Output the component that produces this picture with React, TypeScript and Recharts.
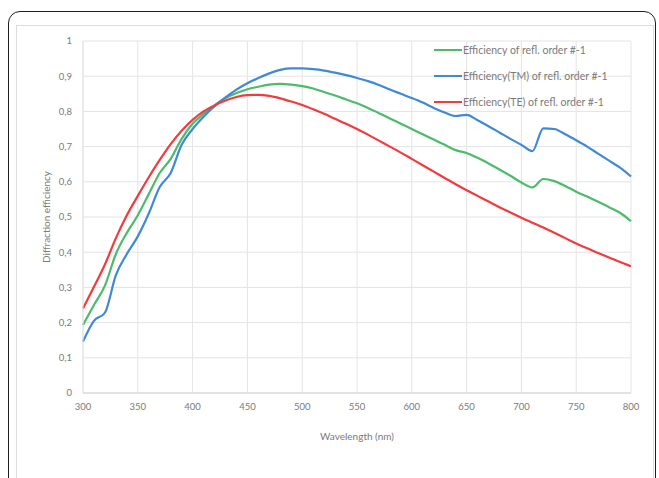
import React from "react";
import {
  LineChart,
  Line,
  XAxis,
  YAxis,
  CartesianGrid,
  Legend,
  Label,
} from "recharts";

const wavelengths = [
  300, 310, 320, 330, 340, 350, 360, 370, 380, 390, 400, 410, 420, 430, 440,
  450, 460, 470, 480, 490, 500, 510, 520, 530, 540, 550, 560, 570, 580, 590,
  600, 610, 620, 630, 640, 650, 660, 670, 680, 690, 700, 710, 720, 730, 740,
  750, 760, 770, 780, 790, 800,
];

const effTotal = [
  0.193, 0.25, 0.305, 0.395, 0.455, 0.505, 0.565, 0.625, 0.665, 0.722, 0.765,
  0.793, 0.817, 0.838, 0.852, 0.863, 0.87, 0.876, 0.878, 0.876, 0.872, 0.865,
  0.855, 0.845, 0.834, 0.823, 0.81, 0.795, 0.78, 0.765, 0.75, 0.735, 0.72,
  0.705, 0.69, 0.682, 0.668, 0.652, 0.635, 0.617, 0.598, 0.584, 0.608, 0.602,
  0.588, 0.572, 0.558, 0.543, 0.528, 0.512, 0.488,
];

const effTM = [
  0.146, 0.205, 0.228, 0.335, 0.395, 0.445, 0.51, 0.585, 0.625, 0.705, 0.75,
  0.785, 0.815, 0.84, 0.862, 0.88, 0.895, 0.908, 0.918, 0.922, 0.922, 0.92,
  0.916, 0.91, 0.903, 0.895, 0.886, 0.875, 0.862, 0.85, 0.838, 0.825, 0.81,
  0.797, 0.787, 0.79, 0.775, 0.758, 0.74, 0.722, 0.705, 0.687, 0.752, 0.75,
  0.735, 0.718, 0.7, 0.68, 0.66, 0.64, 0.615,
];

const effTE = [
  0.24, 0.302, 0.365, 0.44, 0.505, 0.56, 0.613, 0.662, 0.707, 0.745, 0.776,
  0.8, 0.817, 0.831, 0.841, 0.846, 0.847, 0.844, 0.837, 0.828, 0.818, 0.806,
  0.793, 0.779, 0.765, 0.75, 0.734, 0.717, 0.7, 0.683, 0.665, 0.647, 0.629,
  0.611, 0.593, 0.576, 0.56, 0.544, 0.528, 0.513, 0.498, 0.484, 0.47, 0.455,
  0.44, 0.425, 0.411, 0.398, 0.385, 0.372, 0.36,
];

const xTicks = [300, 350, 400, 450, 500, 550, 600, 650, 700, 750, 800];
const yTicks = [0, 0.1, 0.2, 0.3, 0.4, 0.5, 0.6, 0.7, 0.8, 0.9, 1];

const series = [
  { key: "total", name: "Efficiency of refl. order #-1", color: "#4cbb6a" },
  { key: "tm", name: "Efficiency(TM) of refl. order #-1", color: "#3f89d6" },
  { key: "te", name: "Efficiency(TE) of refl. order #-1", color: "#f23b3d" },
];

const data = wavelengths.map((w, i) => ({
  w,
  total: effTotal[i],
  tm: effTM[i],
  te: effTE[i],
}));

const FONT = "Lato, 'Open Sans', sans-serif";
const TEXT = "#7a7a7a";

const renderLegend = () => (
  <div style={{ fontFamily: FONT, fontSize: 10.5, color: TEXT }}>
    {series.map((s) => (
      <div
        key={s.key}
        style={{ display: "flex", alignItems: "center", height: 26 }}
      >
        <span
          style={{
            display: "inline-block",
            width: 28,
            height: 2,
            background: s.color,
            marginRight: 1,
          }}
        />
        <span>{s.name}</span>
      </div>
    ))}
  </div>
);

export default function App() {
  return (
    <div
      style={{
        position: "absolute",
        left: 0,
        top: 0,
        width: 659,
        height: 478,
        overflow: "hidden",
        background: "#fff",
      }}
    >
      {/* outer rounded frame */}
      <div
        style={{
          position: "absolute",
          left: 8,
          top: 11,
          width: 646,
          height: 520,
          border: "1.5px solid #1e1e1e",
          borderRadius: 12,
        }}
      />
      {/* chart area frame */}
      <div
        style={{
          position: "absolute",
          left: 16,
          top: 25,
          width: 636,
          height: 520,
          border: "1px solid #dcdcdc",
        }}
      />
      <div style={{ position: "absolute", left: 0, top: 0 }}>
        <LineChart
          width={659}
          height={478}
          data={data}
          margin={{ top: 41, right: 28, bottom: 55, left: 0 }}
        >
          <CartesianGrid stroke="#e4e4e4" strokeWidth={1} />
          <XAxis
            dataKey="w"
            type="number"
            domain={[300, 800]}
            ticks={xTicks}
            height={30}
            tickLine={false}
            axisLine={{ stroke: "#d4d4d4" }}
            tick={{ fontFamily: FONT, fontSize: 9.5, fill: TEXT }}
            tickMargin={4}
          >
            <Label
              value="Wavelength (nm)"
              position="bottom"
              offset={10}
              style={{ fontFamily: FONT, fontSize: 10, fill: TEXT }}
            />
          </XAxis>
          <YAxis
            type="number"
            domain={[0, 1]}
            ticks={yTicks}
            width={83}
            tickLine={false}
            axisLine={{ stroke: "#e4e4e4" }}
            tickMargin={5}
            tick={{ fontFamily: FONT, fontSize: 9.5, fill: TEXT }}
            tickFormatter={(v: number) => String(v).replace(".", ",")}
          >
            <Label
              value="Diffraction efficiency"
              angle={-90}
              position="insideLeft"
              offset={46}
              style={{
                fontFamily: FONT,
                fontSize: 10,
                fill: TEXT,
                textAnchor: "middle",
              }}
            />
          </YAxis>
          <Legend
            verticalAlign="middle"
            align="center"
            layout="horizontal"
            content={renderLegend}
            wrapperStyle={{ top: 37, left: 434, width: 215 }}
          />
          {series.map((s) => (
            <Line
              key={s.key}
              dataKey={s.key}
              name={s.name}
              type="monotone"
              stroke={s.color}
              strokeWidth={2.2}
              dot={false}
              isAnimationActive={false}
            />
          ))}
        </LineChart>
      </div>
    </div>
  );
}
